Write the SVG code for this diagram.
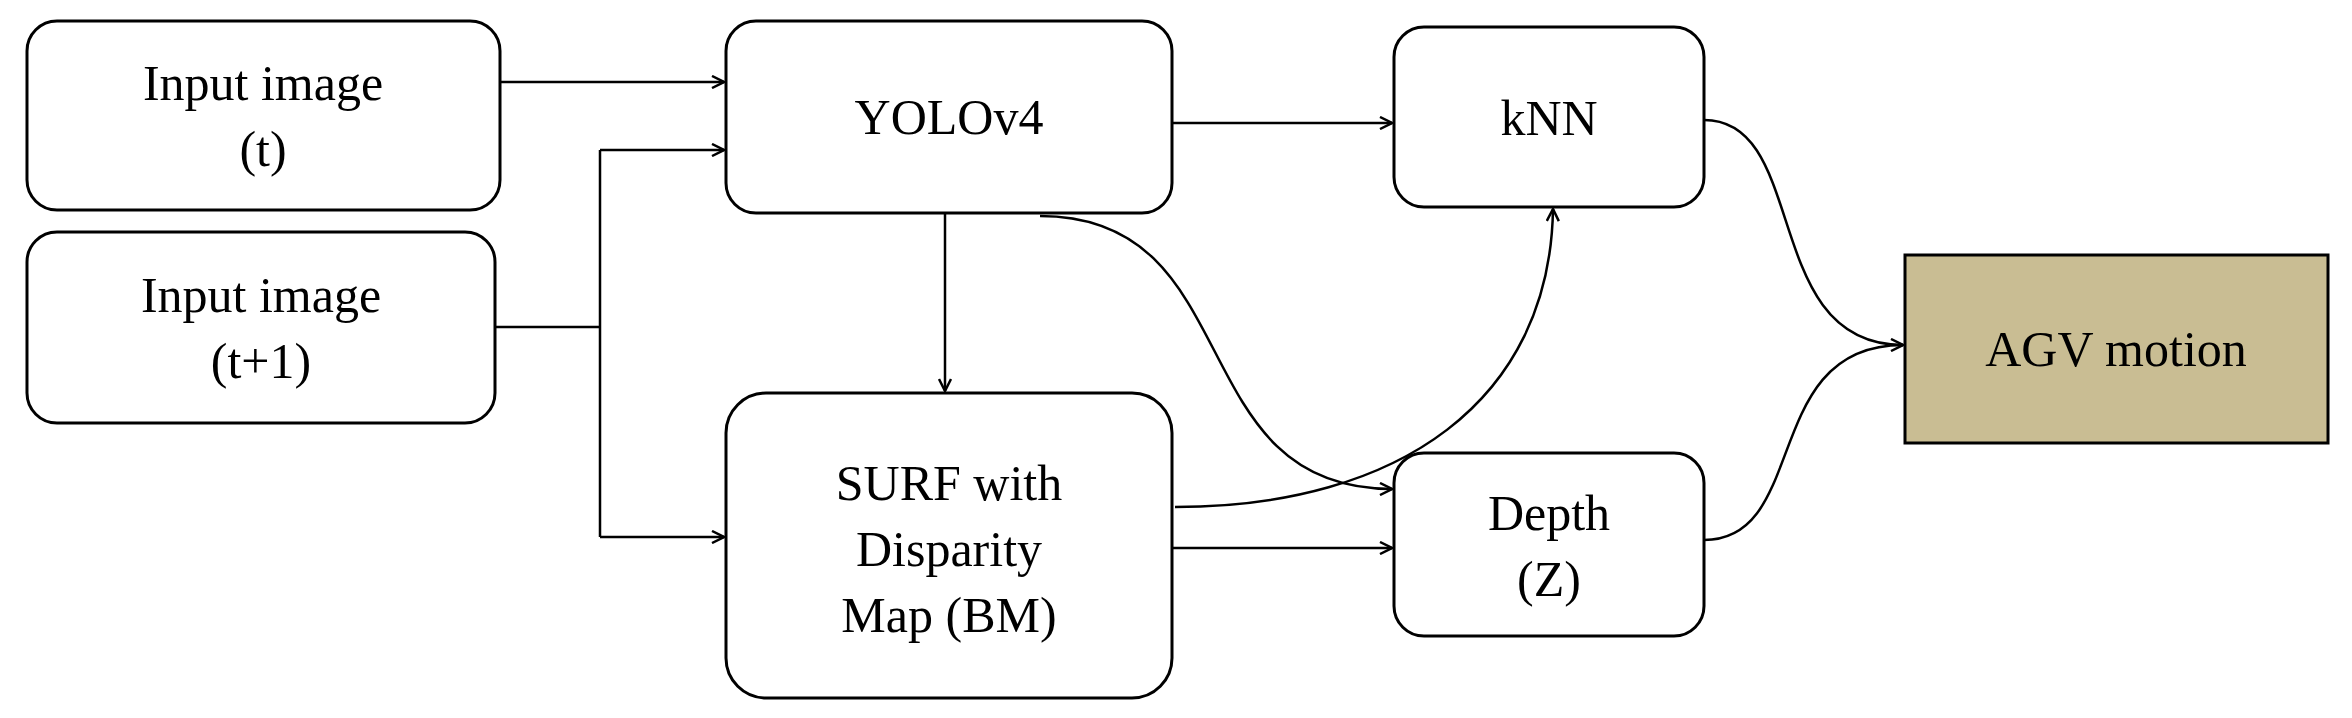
<svg xmlns="http://www.w3.org/2000/svg" width="2352" height="718" viewBox="0 0 2352 718">
<style>
.n{fill:#fff;stroke:#000;stroke-width:3}
.t{font-family:"Liberation Serif",serif;font-size:50px;text-anchor:middle;fill:#000}
.c{fill:none;stroke:#000;stroke-width:2.5}
</style>
<defs><marker id="a" markerWidth="14" markerHeight="14" refX="13" refY="7" orient="auto" markerUnits="userSpaceOnUse"><path d="M1,1 L13,7 L1,13" fill="none" stroke="#000" stroke-width="2.5"/></marker></defs>
<rect width="2352" height="718" fill="#fff"/>
<g id="in1"><rect class="n" x="27" y="21" width="473" height="189" rx="30"/><text class="t" x="263" y="100">Input image</text><text class="t" x="263" y="166">(t)</text></g>
<g id="in2"><rect class="n" x="27" y="232" width="468" height="191" rx="30"/><text class="t" x="261" y="312">Input image</text><text class="t" x="261" y="378">(t+1)</text></g>
<g id="yolo"><rect class="n" x="726" y="21" width="446" height="192" rx="30"/><text class="t" x="949" y="134">YOLOv4</text></g>
<g id="knn"><rect class="n" x="1394" y="27" width="310" height="180" rx="30"/><text class="t" x="1549" y="135">kNN</text></g>
<g id="surf"><rect class="n" x="726" y="393" width="446" height="305" rx="40"/><text class="t" x="949" y="500">SURF with</text><text class="t" x="949" y="566">Disparity</text><text class="t" x="949" y="632">Map (BM)</text></g>
<g id="depth"><rect class="n" x="1394" y="453" width="310" height="183" rx="30"/><text class="t" x="1549" y="530">Depth</text><text class="t" x="1549" y="596">(Z)</text></g>
<g id="agv"><rect x="1905" y="255" width="423" height="188" fill="#c9bd93" stroke="#000" stroke-width="3"/><text class="t" x="2116" y="366" font-size="54">AGV motion</text></g>
<g id="connectors">
<path class="c" d="M500,82 H724" marker-end="url(#a)"/>
<path class="c" d="M495,327 H600 M600,150 V537"/>
<path class="c" d="M600,150 H724" marker-end="url(#a)"/>
<path class="c" d="M600,537 H724" marker-end="url(#a)"/>
<path class="c" d="M945,213 V391" marker-end="url(#a)"/>
<path class="c" d="M1172,123 H1392" marker-end="url(#a)"/>
<path class="c" d="M1040,216 C1250,216 1180,489 1392,489" marker-end="url(#a)"/>
<path class="c" d="M1175,507 C1400,507 1550,400 1553,209" marker-end="url(#a)"/>
<path class="c" d="M1172,548 H1392" marker-end="url(#a)"/>
<path class="c" d="M1704,120 C1810,120 1760,345 1903,345" marker-end="url(#a)"/>
<path class="c" d="M1704,540 C1810,540 1760,345 1903,345"/>
</g>
</svg>
